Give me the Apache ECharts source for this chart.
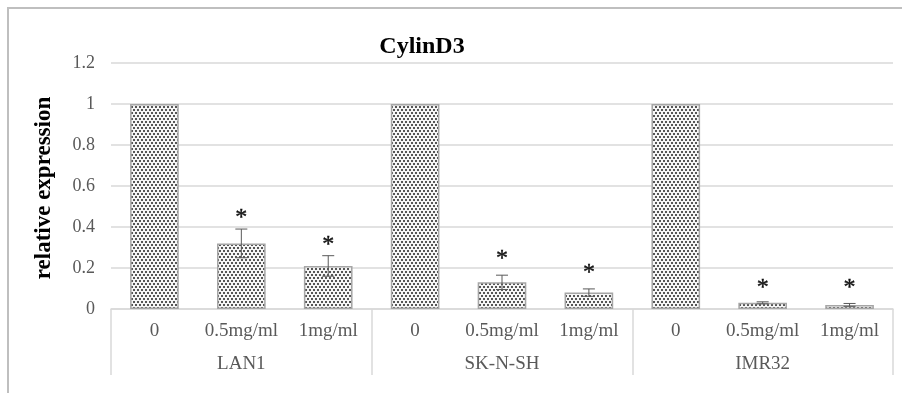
<!DOCTYPE html>
<html><head><meta charset="utf-8">
<script src="https://cdn.jsdelivr.net/npm/echarts@6/dist/echarts.min.js"></script>
<style>html,body{margin:0;padding:0;background:#fff}#c{width:902px;height:393px}</style>
</head><body><div id="c"></div>
<script>
const titleText = 'CylinD3';
const yAxisName = 'relative expression';
const groups = ['LAN1', 'SK-N-SH', 'IMR32'];
const doses = ['0', '0.5mg/ml', '1mg/ml'];
const lan1Values = [1, 0.32, 0.21];
const skValues = [1, 0.13, 0.08];
const imrValues = [1, 0.03, 0.02];
const lan1Err = [null, 0.07, 0.05];
const skErr = [null, 0.035, 0.018];
const imrErr = [null, 0.005, 0.007];
// height (in axis units) at which each significance mark sits
const lan1Sig = [null, 0.46, 0.33];
const skSig = [null, 0.26, 0.19];
const imrSig = [null, 0.117, 0.117];
const sigMark = '*';
const yTicks = [0, 0.2, 0.4, 0.6, 0.8, 1, 1.2];

const categories = [], values = [], errors = [], sigs = [];
[[lan1Values, lan1Err, lan1Sig], [skValues, skErr, skSig], [imrValues, imrErr, imrSig]].forEach(([v, e, s]) => {
  doses.forEach((d, i) => { categories.push(d); values.push(v[i]); errors.push(e[i]); sigs.push(s[i]); });
});

// dotted pattern
const pc = document.createElement('canvas');
pc.width = 4; pc.height = 6;
const px = pc.getContext('2d');
px.fillStyle = '#f6f6f6'; px.fillRect(0, 0, 4, 6);
px.fillStyle = '#555555';
px.fillRect(1, 1, 2, 2);
px.fillRect(3, 4, 1, 2); px.fillRect(0, 4, 1, 2);

const chart = echarts.init(document.getElementById('c'));
const font = 'Liberation Serif';
const errData = values.map((v, i) => [i, v, errors[i], sigs[i]]);

chart.setOption({
  animation: false,
  textStyle: { fontFamily: font },
  grid: { left: 111, right: 9, top: 63, bottom: 84 },
  graphic: [
    { type: 'rect', shape: { x: 8, y: 8, width: 910, height: 420 }, style: { fill: 'none', stroke: '#bfbfbf', lineWidth: 2 }, silent: true },
    { type: 'text', x: 422, y: 47, style: { text: titleText, font: 'bold 24px "Liberation Serif"', fill: '#000', textAlign: 'center', textVerticalAlign: 'middle' } },
    { type: 'text', x: 44, y: 188, rotation: Math.PI / 2, style: { text: yAxisName, font: 'bold 23px "Liberation Serif"', fill: '#000', textAlign: 'center', textVerticalAlign: 'middle' } }
  ],
  xAxis: [
    { type: 'category', data: categories, position: 'bottom',
      axisLine: { show: true, lineStyle: { color: '#d9d9d9', width: 1.5 } },
      axisTick: { show: false },
      axisLabel: { color: '#595959', fontSize: 19, fontFamily: font, margin: 13, interval: 0 } },
    { type: 'category', data: groups, position: 'bottom', gridIndex: 0,
      axisLine: { show: false },
      axisTick: { show: true, length: 66, lineStyle: { color: '#d9d9d9', width: 1.5 } },
      axisLabel: { color: '#595959', fontSize: 19, fontFamily: font, margin: 46 } }
  ],
  yAxis: {
    type: 'value', min: 0, max: 1.2, interval: 0.2,
    axisLine: { show: false }, axisTick: { show: false },
    splitLine: { lineStyle: { color: '#d9d9d9', width: 1.5 } },
    axisLabel: { color: '#595959', fontSize: 18, fontFamily: font, margin: 16,
      formatter: v => { const t = yTicks.find(x => Math.abs(x - v) < 1e-9); return t === undefined ? '' : String(t); } }
  },
  series: [
    { type: 'bar', data: values, xAxisIndex: 0, barWidth: '56%',
      itemStyle: { color: { image: pc, repeat: 'repeat' }, borderColor: '#a6a6a6', borderWidth: 1.5 } },
    { type: 'custom', xAxisIndex: 0, data: errData, z: 10,
      renderItem: (params, api) => {
        const i = api.value(0), v = api.value(1), e = api.value(2);
        const s = errData[params.dataIndex][3];
        if (e === null || isNaN(e) || !e) return null;
        const top = api.coord([i, v + e]), bot = api.coord([i, v - e]);
        const hw = 6;
        const st = { stroke: '#595959', lineWidth: 1 };
        const ch = [
          { type: 'line', shape: { x1: top[0], y1: top[1], x2: bot[0], y2: bot[1] }, style: st },
          { type: 'line', shape: { x1: top[0] - hw, y1: top[1], x2: top[0] + hw, y2: top[1] }, style: st },
          { type: 'line', shape: { x1: bot[0] - hw, y1: bot[1], x2: bot[0] + hw, y2: bot[1] }, style: st }
        ];
        if (s !== null) {
          const sp = api.coord([i, s]);
          ch.push({ type: 'text', x: sp[0], y: sp[1] + 3, style: { text: sigMark, font: '24px "Liberation Serif"', fill: '#111', stroke: '#111', lineWidth: 0.4, textAlign: 'center', textVerticalAlign: 'middle' } });
        }
        return { type: 'group', children: ch };
      } }
  ]
});
</script></body></html>
